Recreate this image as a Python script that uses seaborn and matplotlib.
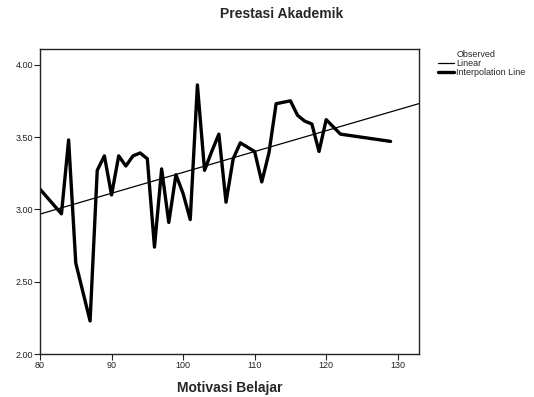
import numpy as np
import pandas as pd
import matplotlib
matplotlib.use("Agg")
import matplotlib.pyplot as plt
from matplotlib.lines import Line2D
import seaborn as sns

# values
motivasi = [80, 83, 84, 85, 87, 88, 89, 90, 91, 92, 93, 94, 95, 96, 97, 98, 99, 100,
            101, 102, 103, 104, 105, 106, 107, 108, 109, 110, 111, 112, 113, 115,
            116, 117, 118, 119, 120, 121, 122, 129]
prestasi = [3.14, 2.97, 3.48, 2.63, 2.23, 3.27, 3.37, 3.10, 3.37, 3.30, 3.37, 3.39,
            3.35, 2.74, 3.28, 2.91, 3.24, 3.11, 2.93, 3.86, 3.27, 3.40, 3.52, 3.05,
            3.35, 3.46, 3.43, 3.40, 3.19, 3.39, 3.73, 3.75, 3.65, 3.61, 3.59, 3.40,
            3.62, 3.57, 3.52, 3.47]
# linear fit
fit_intercept = 1.816
fit_slope = 0.0144
x_limits = [80, 133]
y_ticks = [2.00, 2.50, 3.00, 3.50, 4.00]
legend_labels = ["Observed", "Linear", "Interpolation Line"]

sns.set_style("white")
plt.rcParams['font.family'] = ['Liberation Sans', 'DejaVu Sans']

df = pd.DataFrame({"Motivasi Belajar": motivasi, "Prestasi Akademik": prestasi})
fit_df = pd.DataFrame({"x": x_limits})
fit_df["y"] = fit_intercept + fit_slope * fit_df["x"]

fig = plt.figure(figsize=(5.34, 3.97), dpi=100)
ax = fig.add_axes([0.0749, 0.1076, 0.785 - 0.0749, 0.8766 - 0.1076])

sns.lineplot(data=fit_df, x="x", y="y", color="black", linewidth=0.9, ax=ax)
sns.lineplot(data=df, x="Motivasi Belajar", y="Prestasi Akademik", estimator=None,
             sort=False, color="black", linewidth=2.4, ax=ax)

ax.set_xlim(x_limits)
ax.set_ylim(2.0, 4.108)
ax.set_yticks(y_ticks)
ax.set_yticklabels([f"{v:.2f}" for v in y_ticks])
ax.set_xticks(range(80, 131, 10))
ax.tick_params(axis="both", direction="out", length=4, width=0.8, labelsize=6.5,
               colors="#222222", bottom=True, left=True, pad=1)
for s in ax.spines.values():
    s.set_color("#222222")
    s.set_linewidth(1.0)
ax.set_ylabel("")
ax.set_xlabel("Motivasi Belajar", fontsize=10, fontweight="bold", labelpad=8)

fig.text(0.528, 0.965, "Prestasi Akademik", ha="center", va="center",
         fontsize=10, fontweight="bold")

handles = [Line2D([], [], color="none"),
           Line2D([], [], color="black", linewidth=0.9),
           Line2D([], [], color="black", linewidth=2.4)]
fig.legend(handles, legend_labels, loc="upper left", bbox_to_anchor=(0.813, 0.883),
           frameon=False, fontsize=6.5, handlelength=1.8, handletextpad=0.25,
           labelspacing=0.0, borderaxespad=0)

fig.savefig("out.png", dpi=100)
